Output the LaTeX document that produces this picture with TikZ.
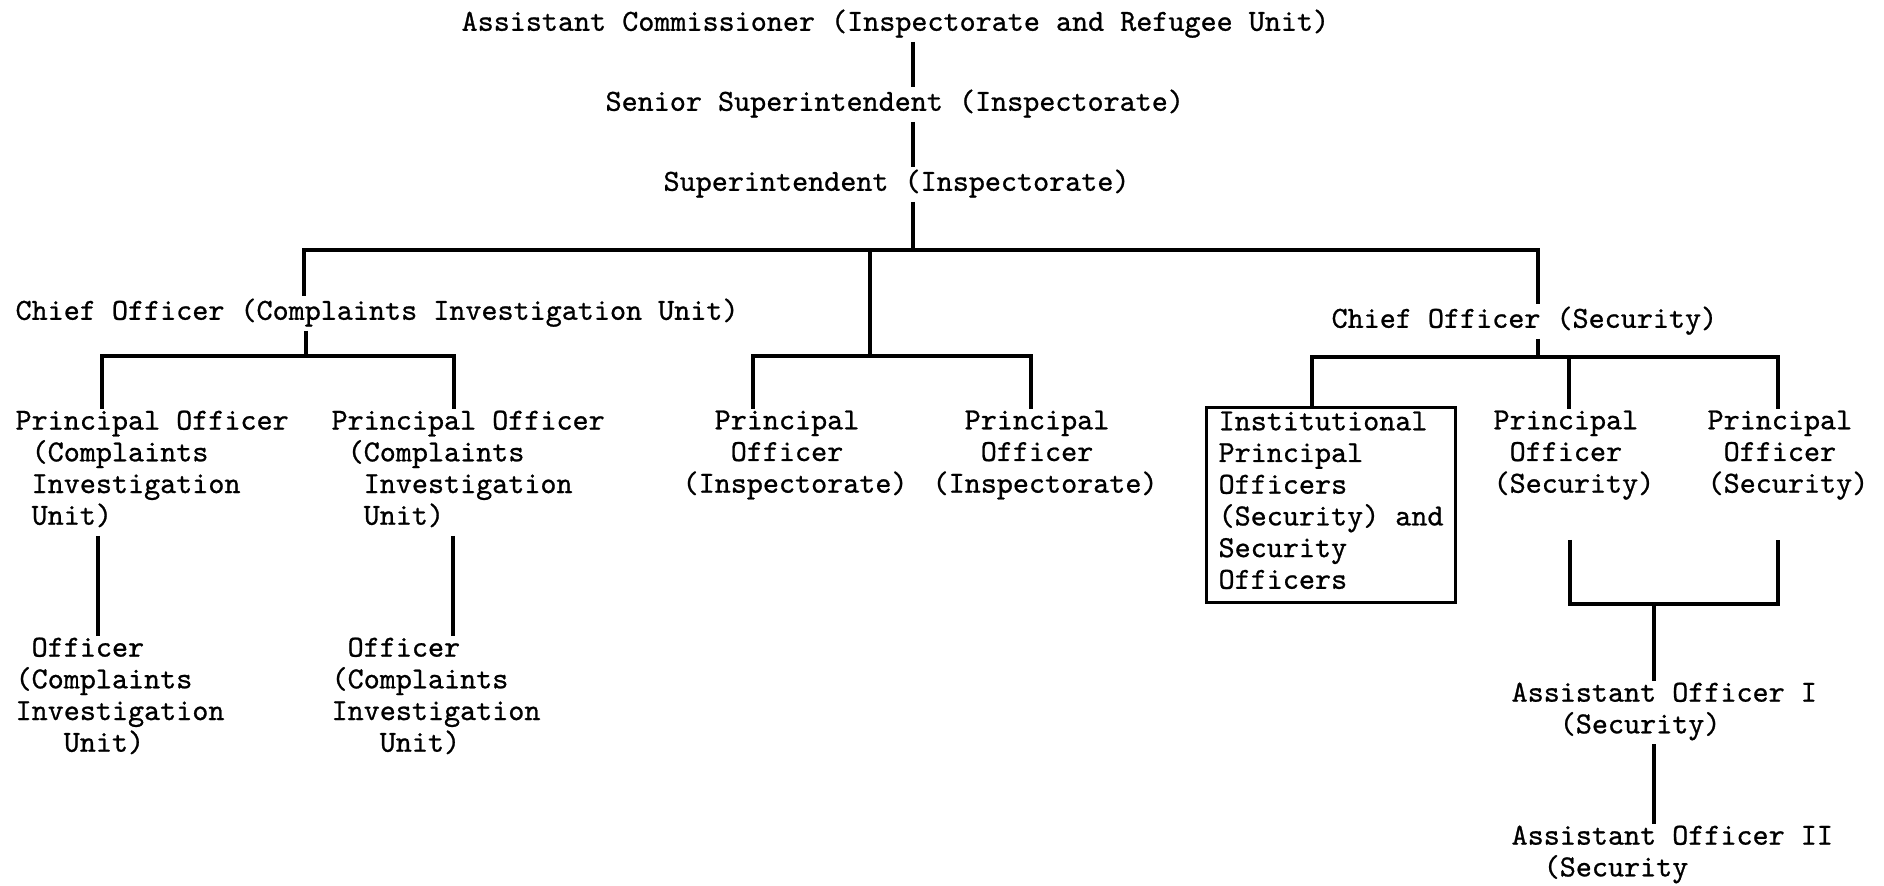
\documentclass[tikz,border=0pt]{standalone}
\usepackage{fontspec}
\newfontfamily\typer{lmmono10-regular.otf}[FakeBold=0.8]
\tikzset{every picture/.style={line width=1.6pt}}
\tikzset{
  lbl/.style={anchor=north west, inner sep=0pt, align=left,
    font=\fontsize{15.3}{15.85}\selectfont\typer,
    execute at begin node=\strut, execute at end node=\strut},
  framed/.style={lbl, draw, inner xsep=6pt, inner ysep=2pt}
}
\newcommand{\ind}[1]{\hspace*{#1\fontcharwd\font`x}}

\begin{document}
\begin{tikzpicture}[x=0.5pt,y=0.5pt,yscale=-1,xscale=1]
\useasboundingbox (0,0) rectangle (1884,886);

% Text Node
\node[lbl] (acom) at (460,7) {Assistant Commissioner (Inspectorate and Refugee Unit)};
% Text Node
\node[lbl] (ssup) at (604,87) {Senior Superintendent (Inspectorate)};
% Text Node
\node[lbl] (supt) at (662,167) {Superintendent (Inspectorate)};
% Text Node
\node[lbl] (chciu) at (14,296) {Chief Officer (Complaints Investigation Unit)};
% Text Node
\node[lbl] (chsec) at (1330,304) {Chief Officer (Security)};
% Text Node
\node[lbl] (prciua) at (14,409) {Principal Officer\\\ind1(Complaints\\\ind1Investigation\\\ind1Unit)};
% Text Node
\node[lbl] (prciub) at (330,409) {Principal Officer\\\ind1(Complaints\\\ind2Investigation\\\ind2Unit)};
% Text Node
\node[lbl] (prinsa) at (681,409) {\ind2Principal\\\ind3Officer\\(Inspectorate)};
% Text Node
\node[lbl] (prinsb) at (931,409) {\ind2Principal\\\ind3Officer\\(Inspectorate)};
% Text Node
\node[framed] (inst) at (1205,406) {Institutional\\Principal\\Officers\\(Security) and\\Security\\Officers};
% Text Node
\node[lbl] (prseca) at (1492,409) {Principal\\\ind1Officer\\(Security)};
% Text Node
\node[lbl] (prsecb) at (1706,409) {Principal\\\ind1Officer\\(Security)};
% Text Node
\node[lbl] (ofciua) at (14,636) {\ind1Officer\\(Complaints\\Investigation\\\ind3Unit)};
% Text Node
\node[lbl] (ofciub) at (330,636) {\ind1Officer\\(Complaints\\Investigation\\\ind3Unit)};
% Text Node
\node[lbl] (aoa) at (1510,681) {Assistant Officer I\\\ind3(Security)};
% Text Node
\node[lbl] (aob) at (1510,824) {Assistant Officer II\\\ind2(Security};

% junctions
\coordinate (spine) at (913,250);
\coordinate (barl) at (304,250);
\coordinate (barm) at (870,250);
\coordinate (barr) at (1538,250);
\coordinate (ciuj) at (306,356);
\coordinate (ciul) at (102,356);
\coordinate (ciur) at (454,356);
\coordinate (insl) at (753,356);
\coordinate (insr) at (1031,356);
\coordinate (secj) at (1538,357);
\coordinate (secl) at (1312,357);
\coordinate (secm) at (1569,357);
\coordinate (secr) at (1778,357);
\coordinate (offa) at (98,600);
\coordinate (offb) at (453,600);
\coordinate (pojl) at (1570,604);
\coordinate (pojr) at (1778,604);
\coordinate (aoj) at (1654,604);

% connectors
\draw (acom.south -| spine) -- (ssup.north -| spine);
\draw (ssup.south -| spine) -- (supt.north -| spine);
\draw (supt.south -| spine) -- (spine);
\draw (chciu.north -| barl) -- (barl) -- (barr) -- (chsec.north -| barr);
\draw (barm) -- (barm |- insl);
\draw (prinsa.north -| insl) -- (insl) -- (insr) -- (prinsb.north -| insr);
\draw (chciu.south -| ciuj) -- (ciuj);
\draw (prciua.north -| ciul) -- (ciul) -- (ciur) -- (prciub.north -| ciur);
\draw (prciua.south -| offa) -- (ofciua.north -| offa);
\draw (prciub.south -| offb) -- (ofciub.north -| offb);
\draw (chsec.south -| secj) -- (secj);
\draw (inst.north -| secl) -- (secl) -- (secr) -- (prsecb.north -| secr);
\draw (secm) -- (prseca.north -| secm);
\draw [shorten <=18pt, shorten >=18pt] (prseca.south -| pojl) -- (pojl) -- (pojr) -- (prsecb.south -| pojr);
\draw (aoj) -- (aoa.north -| aoj);
\draw (aoa.south -| aoj) -- (aob.north -| aoj);

\end{tikzpicture}
\end{document}
